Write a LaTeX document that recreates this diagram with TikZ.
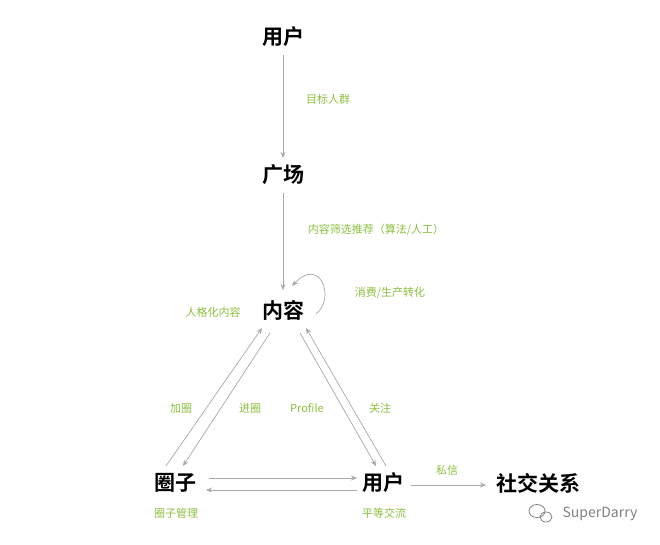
\documentclass[tikz,border=0pt]{standalone}
\usepackage{fontspec}
\setmainfont{Noto Sans CJK SC}[BoldFont={Noto Sans CJK SC Bold}]
\usetikzlibrary{arrows.meta}
\definecolor{lab}{HTML}{8CBF3F}
\definecolor{ln}{HTML}{A8A8A8}
\tikzset{
 big/.style={font=\fontsize{21}{24}\selectfont\bfseries, text=black, inner sep=1pt},
 lbl/.style={font=\fontsize{11}{13}\selectfont, text=lab, inner sep=0pt},
 con/.style={draw=ln, line width=0.7pt, -{Stealth[length=6pt,width=5pt]}}
}
\begin{document}
\begin{tikzpicture}[x=1pt,y=-1pt]
\useasboundingbox (0,0) rectangle (660,545);
\node[big] (u1) at (283,37) {用户};
\node[big] (gc) at (283,175) {广场};
\node[big] (nr) at (283,310) {内容};
\node[big] (qz) at (175,483) {圈子};
\node[big] (u2) at (383,483) {用户};
\node[big] (sj) at (538,483) {社交关系};
\draw[con] (283,55) -- (283,158);
\node[lbl] at (328,99) {目标人群};
\draw[con] (283,193) -- (283,290);
\node[lbl] at (376,230) {内容筛选推荐（算法/人工）};
\draw[con] (316,314) .. controls (336,298) and (320,256) .. (292,286);
\node[lbl] at (390,293) {消费/生产转化};
\node[lbl] at (213,312) {人格化内容};
\draw[con] (166,466) -- (262,328);
\draw[con] (270,333) -- (183,466);
\node[lbl] at (181,408) {加圈};
\node[lbl] at (250,408) {进圈};
\draw[con] (300,333) -- (376,466);
\draw[con] (386,466) -- (306,328);
\node[lbl] at (307,408) {Profile};
\node[lbl] at (380,408) {关注};
\draw[con] (209,478) -- (357,478);
\draw[con] (357,490) -- (206,490);
\draw[con] (411,485) -- (486,485);
\node[lbl] at (447,470) {私信};
\node[lbl] at (176,513) {圈子管理};
\node[lbl] at (384,513) {平等交流};
\node[font=\fontsize{14}{16}\selectfont, text=gray] (wm) at (600,514) {SuperDarry};
\draw[gray, line width=0.8pt] (537,511) ellipse (8 and 6.5);
\draw[gray, line width=0.8pt] (546,517) ellipse (6 and 5);
\end{tikzpicture}
\end{document}
